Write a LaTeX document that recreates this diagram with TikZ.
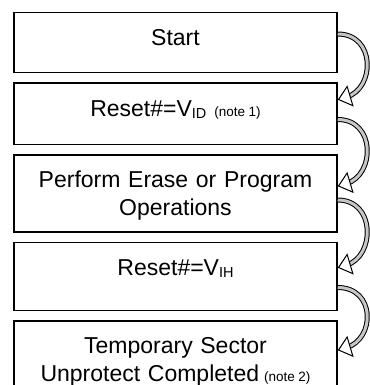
\documentclass[tikz,border=0pt]{standalone}
\usepackage{fontspec}
\setmainfont{Liberation Sans}
\usepackage{tikz}
\usetikzlibrary{calc,positioning}

% Small subscripts and notes.
\newcommand\vsub[1]{\raisebox{-2pt}{\fontsize{14.5}{15}\selectfont #1}}
\newcommand\notetxt[1]{{\fontsize{13.5}{15}\selectfont #1}}

\begin{document}
\begin{tikzpicture}[
        x=1pt, y=1pt,
        node distance=9pt,
        stage/.style={
          draw,
          line width=1.5pt,
          inner xsep=0pt,
          inner ysep=0pt,
          text width=323pt,
          align=center,
          text height=33pt,
          text depth=#1,
          font=\fontsize{23}{27.5}\selectfont
        },
        curl/.style={
          draw=black,
          line width=1pt,
          double=gray!45,
          double distance=3pt,
          shorten >=8pt
        },
        curlhead/.style={
          draw=black,
          line width=1pt,
          fill=white
        }]

        \useasboundingbox (0,0) rectangle (369,-385);

        % Helper macro.
        \def\fl#1#2#3#4{
          \draw[curl] ([yshift=-#3]#1.north east) .. controls +(38,0) and +(37,11)
            .. ([xshift=0.75pt,yshift=-#4]#2.north east);
          \begin{scope}[shift={([xshift=0.75pt,yshift=-#4]#2.north east)}, rotate=196.6]
            \draw[curlhead] (0,0) -- (-12,10) -- (-12,-10) -- cycle;
          \end{scope}}

        % Draw the steps.
        \node[stage=27pt, anchor=north] (start) at (175.5,-12) {Start};
        \node[stage=28pt, below=of start] (vid)
          {Reset\#=V\vsub{ID}\hspace{8pt}\notetxt{(note\hspace{3.5pt}1)}};
        \node[stage=44pt, below=of vid] (oper) {Perform Erase or Program\\Operations};
        \node[stage=35pt, below=of oper] (vih) {Reset\#=V\vsub{IH}};
        \node[stage=35pt, below=of vih] (done)
          {Temporary Sector\\Unprotect Completed\hspace{5pt}\notetxt{(note\hspace{3.5pt}2)}};

        % Add curved arrows.
        \fl{start}{vid}{22pt}{17pt}
        \fl{vid}{oper}{37pt}{32pt}
        \fl{oper}{vih}{46pt}{26pt}
        \fl{vih}{done}{46pt}{30pt}
      \end{tikzpicture}
\end{document}
